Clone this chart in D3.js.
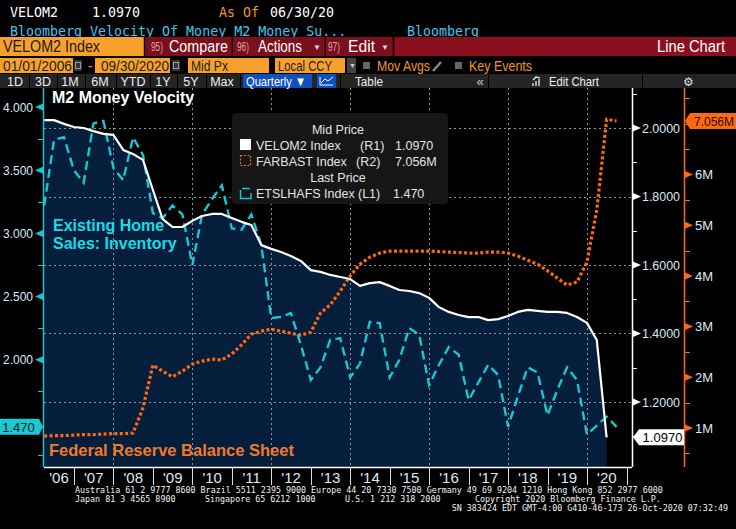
<!DOCTYPE html>
<html>
<head>
<meta charset="utf-8">
<script src="https://cdn.jsdelivr.net/npm/d3@7"></script>
<style>
  body { margin: 0; background: #000; }
  svg { display: block; }
  text { font-family: "Liberation Sans", Arial, sans-serif; }
  .mono { font-family: "DejaVu Sans Mono", "Liberation Mono", monospace; }
  .axis path, .axis line { shape-rendering: crispEdges; }
</style>
</head>
<body>
<div id="chart"></div>
<script>
// ---- Data (quarterly, first point 2006 Q1) ----
const yearLabels = ["'06", "'07", "'08", "'09", "'10", "'11", "'12", "'13", "'14", "'15", "'16", "'17", "'18", "'19", "'20"];

// VELOM2 Index (R1) - M2 money velocity, through 2020 Q2
const velom2 = [2.023, 2.023, 2.012, 2.003, 2.000, 1.991, 1.983, 1.980, 1.936, 1.924,
  1.907, 1.819, 1.734, 1.711, 1.711, 1.729, 1.743, 1.749, 1.749, 1.737,
  1.726, 1.717, 1.658, 1.647, 1.638, 1.626, 1.612, 1.585, 1.580, 1.571,
  1.565, 1.559, 1.539, 1.547, 1.550, 1.539, 1.527, 1.524, 1.518, 1.504,
  1.477, 1.463, 1.454, 1.448, 1.448, 1.439, 1.442, 1.451, 1.463, 1.469,
  1.466, 1.463, 1.463, 1.460, 1.448, 1.431, 1.381, 1.097];

// FARBAST Index (R2) - Fed balance sheet, millions, through 2020 Q3
const farbast = [0.84, 0.85, 0.85, 0.86, 0.87, 0.87, 0.88, 0.89, 0.89, 0.90,
  1.40, 2.24, 2.12, 2.01, 2.12, 2.26, 2.32, 2.36, 2.34, 2.46,
  2.64, 2.85, 2.91, 2.95, 2.91, 2.87, 2.83, 2.89, 3.27, 3.43,
  3.70, 4.00, 4.23, 4.37, 4.45, 4.49, 4.49, 4.49, 4.49, 4.49,
  4.48, 4.47, 4.46, 4.45, 4.45, 4.47, 4.47, 4.45, 4.39, 4.31,
  4.23, 4.10, 3.96, 3.82, 3.88, 4.27, 5.30, 7.09, 7.056];

// ETSLHAFS Index (L1) - existing home sales inventory, millions, through 2020 Q3
const etslhafs = [3.22, 3.74, 3.76, 3.50, 3.40, 3.87, 3.89, 3.52, 3.42, 3.76,
  3.62, 3.16, 3.12, 3.22, 3.15, 2.75, 3.15, 3.27, 3.38, 3.04,
  3.03, 3.15, 2.91, 2.33, 2.34, 2.37, 2.12, 1.84, 1.94, 2.16,
  2.17, 1.86, 1.97, 2.30, 2.29, 1.86, 2.00, 2.25, 2.20, 1.80,
  1.96, 2.10, 2.04, 1.68, 1.82, 1.96, 1.88, 1.47, 1.71, 1.94,
  1.90, 1.56, 1.76, 1.94, 1.84, 1.41, 1.48, 1.55, 1.47];

const leftTicks = [2.0, 2.5, 3.0, 3.5, 4.0],
      leftMinor = [1.25, 1.75, 2.25, 2.75, 3.25, 3.75],
      r1Ticks = [1.2, 1.4, 1.6, 1.8, 2.0],
      r1Minor = [1.1, 1.3, 1.5, 1.7, 1.9, 2.1],
      r2Ticks = [1, 2, 3, 4, 5, 6],
      r2Minor = [0.5, 1.5, 2.5, 3.5, 4.5, 5.5, 6.5, 7, 7.5];

// quarter-end dates
const quarterEnd = i => d3.timeDay.offset(d3.timeMonth.offset(new Date(2006, 3, 1), 3 * i), -1);

// ---- Layout ----
const W = 736, H = 529;
const plot = {left: 44, right: 632, top: 88, bottom: 467};
const C = {
  navy: "#041e3c", white: "#ffffff", orange: "#ff6812", cyan: "#19c6d2",
  amber: "#f7a12c", red: "#8a1020", label: "#dce8f4", grid: "#8a96a3"
};

const svg = d3.select("#chart").append("svg").attr("width", W).attr("height", H);
svg.append("rect").attr("width", W).attr("height", H).attr("fill", "#000");

// ---- Scales ----
const x = d3.scaleTime()
  .domain([new Date(2006, 0, 1), new Date(2021, 0, 1)])
  .range([34.6, 626.6]);
const yL = d3.scaleLinear().domain([1.152, 4.150]).range([plot.bottom, plot.top]);
const yR1 = d3.scaleLinear().domain([1.0102, 2.1168]).range([plot.bottom, plot.top]);
const yR2 = d3.scaleLinear().domain([0.231, 7.706]).range([plot.bottom, plot.top]);

const velData = velom2.map((v, i) => ({date: quarterEnd(i), v}));
const fedData = farbast.map((v, i) => ({date: quarterEnd(i), v}));
const homeData = etslhafs.map((v, i) => ({date: quarterEnd(i), v}));

/////////////////////////////////////////////////////////////////////////////
//// Header /////////////////////////////////////////////////////////////////
/////////////////////////////////////////////////////////////////////////////
const hdr = svg.append("g");
const mono = (t, xx, yy, fill, size = 13.3) => hdr.append("text").attr("class", "mono")
  .attr("x", xx).attr("y", yy).attr("fill", fill).style("font-size", size + "px").text(t);
// sans text squeezed to the width Bloomberg's narrow font takes
const txt = (t, xx, yy, fill, size, len) => {
  const el = hdr.append("text").attr("x", xx).attr("y", yy).attr("fill", fill)
    .style("font-size", size + "px").text(t);
  if (len) el.attr("textLength", len).attr("lengthAdjust", "spacingAndGlyphs");
  return el;
};

mono("VELOM2", 10, 17, "#fff");
mono("1.0970", 92, 17, "#fff");
mono("As Of", 219, 17, "#f0962a");
mono("06/30/20", 270, 17, "#fff");
mono("Bloomberg Velocity Of Money M2 Money Su...", 10, 36, "#45c4ee");
mono("Bloomberg", 407, 36, "#45c4ee");

// row 3: security + red function bar
hdr.append("rect").attr("x", 0).attr("y", 37).attr("width", 144).attr("height", 19).attr("fill", C.amber);
txt("VELOM2 Index", 3, 52, "#1a1a1a", 16, 97);
hdr.append("rect").attr("x", 145).attr("y", 37).attr("width", W - 145).attr("height", 19).attr("fill", C.red);

const buttons = [
  [145, 232, "95)", 151, "Compare", 169, 59, null],
  [233, 325, "96)", 237, "Actions", 258, 44, 313],
  [326, 393, "97)", 328, "Edit", 348, 27, 381]
];
buttons.forEach(([x0, x1, num, nx, label, lx, len, cx]) => {
  hdr.append("rect").attr("x", x0).attr("y", 37).attr("width", x1 - x0).attr("height", 19).attr("fill", "#7d0e1c");
  txt(num, nx, 51, "#dba7ae", 12, 12);
  txt(label, lx, 52, "#fff", 16, len);
  if (cx) txt("▼", cx, 50, "#ddd", 8);
  hdr.append("line").attr("x1", x1 + 0.5).attr("x2", x1 + 0.5).attr("y1", 37).attr("y2", 56).attr("stroke", "#000").attr("stroke-width", 1.5);
});
hdr.append("line").attr("x1", 144.5).attr("x2", 144.5).attr("y1", 37).attr("y2", 56).attr("stroke", "#000").attr("stroke-width", 1.5);
txt("Line Chart", 657, 52, "#fff", 16, 68);

// row 4: date range & options
const fields = [[0, 73, "01/01/2006", 3, 69], [95, 170, "09/30/2020", 101, 68],
  [188, 269, "Mid Px", 191, 37], [275, 345, "Local CCY", 278, 54]];
fields.forEach(([x0, x1, t, tx, len]) => {
  hdr.append("rect").attr("x", x0).attr("y", 58).attr("width", x1 - x0).attr("height", 15).attr("fill", C.amber);
  txt(t, tx, 71, "#222", 15, len);
});
[74, 172].forEach(xx => {
  hdr.append("rect").attr("x", xx).attr("y", 60).attr("width", 8).attr("height", 11).attr("fill", "#333");
  hdr.append("rect").attr("x", xx + 1.5).attr("y", 62.5).attr("width", 5).attr("height", 6)
    .attr("fill", "none").attr("stroke", "#999").attr("stroke-width", 1);
});
txt("-", 88, 71, C.amber, 14);
hdr.append("rect").attr("x", 347).attr("y", 58).attr("width", 9).attr("height", 15).attr("fill", "#444");
txt("▼", 349, 68, "#ccc", 7);
hdr.append("rect").attr("x", 363).attr("y", 62).attr("width", 7).attr("height", 7).attr("fill", "#666");
txt("Mov Avgs", 377, 71, "#f0962a", 15, 53);
hdr.append("line").attr("x1", 433).attr("y1", 71).attr("x2", 441).attr("y2", 62).attr("stroke", "#888").attr("stroke-width", 2.5);
hdr.append("rect").attr("x", 455).attr("y", 62).attr("width", 7).attr("height", 7).attr("fill", "#666");
txt("Key Events", 469, 71, "#f0962a", 15, 63);

// row 5: periods toolbar
hdr.append("rect").attr("x", 0).attr("y", 74).attr("width", W).attr("height", 14).attr("fill", "#242424");
const periods = [[15, "1D"], [43, "3D"], [70, "1M"], [100, "6M"], [133, "YTD"], [163, "1Y"], [191, "5Y"], [222, "Max"]];
periods.forEach(([cx, t]) => hdr.append("text").attr("x", cx).attr("y", 86).attr("text-anchor", "middle")
  .attr("fill", "#eee").style("font-size", "12.5px").text(t));
[29, 57, 85, 116, 150, 177, 206, 240, 340, 488, 642].forEach(xx =>
  hdr.append("line").attr("x1", xx + 0.5).attr("x2", xx + 0.5).attr("y1", 74).attr("y2", 88).attr("stroke", "#000"));
hdr.append("rect").attr("x", 243).attr("y", 74).attr("width", 69).attr("height", 14).attr("fill", "#0f4fbf");
txt("Quarterly ▼", 246, 86, "#fff", 13, 60);
hdr.append("rect").attr("x", 317).attr("y", 74).attr("width", 19).attr("height", 14).attr("fill", "#0f4fbf");
hdr.append("path").attr("d", "M320,85 L320,77 M320,85 L333,85 M321,83 L325,79 L328,81 L333,77")
  .attr("fill", "none").attr("stroke", "#fff").attr("stroke-width", 1);
txt("Table", 355, 86, "#eee", 13, 28);
hdr.append("text").attr("x", 480).attr("y", 86).attr("text-anchor", "middle").attr("fill", "#ccc").style("font-size", "13px").text("«");
hdr.append("path").attr("d", "M533,86 L533,83 M536,86 L536,81 M539,86 L539,79 M533,80 L536,77 L540,78")
  .attr("fill", "none").attr("stroke", "#fff").attr("stroke-width", 1.2);
txt("Edit Chart", 549, 86, "#eee", 13, 50);
hdr.append("text").attr("x", 688).attr("y", 86).attr("text-anchor", "middle").attr("fill", "#ddd").style("font-size", "12px").text("⚙");

/////////////////////////////////////////////////////////////////////////////
//// Plot ///////////////////////////////////////////////////////////////////
/////////////////////////////////////////////////////////////////////////////
svg.append("clipPath").attr("id", "plotClip").append("rect")
  .attr("x", plot.left).attr("y", plot.top)
  .attr("width", plot.right - plot.left).attr("height", plot.bottom - plot.top);

const g = svg.append("g").attr("clip-path", "url(#plotClip)");

// area under velocity
g.append("path").datum(velData)
  .attr("fill", C.navy)
  .attr("d", d3.area().x(d => x(d.date)).y0(plot.bottom).y1(d => yR1(d.v)));

// grid
g.append("g").selectAll("line").data(r1Ticks).enter().append("line")
  .attr("x1", plot.left).attr("x2", plot.right)
  .attr("y1", d => Math.round(yR1(d)) + 0.5).attr("y2", d => Math.round(yR1(d)) + 0.5)
  .attr("stroke", C.grid).attr("stroke-width", 1).attr("stroke-dasharray", "2,3");
const gridYears = d3.range(2008, 2021, 2).map(y => new Date(y, 0, 1));
g.append("g").selectAll("line").data(gridYears).enter().append("line")
  .attr("x1", d => Math.round(x(d)) + 0.5).attr("x2", d => Math.round(x(d)) + 0.5)
  .attr("y1", plot.top).attr("y2", plot.bottom)
  .attr("stroke", C.grid).attr("stroke-width", 1).attr("stroke-dasharray", "2,3");

// series
g.append("path").datum(fedData)
  .attr("fill", "none").attr("stroke", C.orange).attr("stroke-width", 3.2)
  .attr("stroke-dasharray", "3,2.4")
  .attr("d", d3.line().x(d => x(d.date)).y(d => yR2(d.v)));

g.append("path").datum(homeData)
  .attr("fill", "none").attr("stroke", C.cyan).attr("stroke-width", 2.4)
  .attr("stroke-dasharray", "9,5")
  .attr("d", d3.line().x(d => x(d.date)).y(d => yL(d.v)));

g.append("path").datum(velData)
  .attr("fill", "none").attr("stroke", C.white).attr("stroke-width", 2.2)
  .attr("stroke-linejoin", "round")
  .attr("d", d3.line().x(d => x(d.date)).y(d => yR1(d.v)));

// annotations
svg.append("text").attr("x", 52).attr("y", 103).attr("fill", "#fff")
  .style("font-size", "16px").style("font-weight", "bold").text("M2 Money Velocity");
svg.append("text").attr("x", 53).attr("y", 231).attr("fill", "#17dce9")
  .style("font-size", "16px").style("font-weight", "bold").text("Existing Home");
svg.append("text").attr("x", 53).attr("y", 249).attr("fill", "#17dce9")
  .style("font-size", "16px").style("font-weight", "bold").text("Sales: Inventory");
svg.append("text").attr("x", 49).attr("y", 456).attr("fill", "#f07a2c")
  .style("font-size", "16.5px").style("font-weight", "bold").text("Federal Reserve Balance Sheet");

/////////////////////////////////////////////////////////////////////////////
//// Legend /////////////////////////////////////////////////////////////////
/////////////////////////////////////////////////////////////////////////////
const lg = svg.append("g");
lg.append("rect").attr("x", 232).attr("y", 113).attr("width", 216).attr("height", 91)
  .attr("rx", 4).attr("fill", "#161616");
const lgText = (t, xx, yy, anchor = "start") => lg.append("text").attr("x", xx).attr("y", yy)
  .attr("text-anchor", anchor).attr("fill", "#e4e4e4").style("font-size", "12.5px").text(t);
lgText("Mid Price", 338, 134, "middle");
lgText("VELOM2 Index", 256, 150); lgText("(R1)", 360, 150); lgText("1.0970", 395, 150);
lgText("FARBAST Index", 256, 166); lgText("(R2)", 356, 166); lgText("7.056M", 395, 166);
lgText("Last Price", 338, 182, "middle");
lgText("ETSLHAFS Index", 256, 198); lgText("(L1)", 358, 198); lgText("1.470", 393, 198);
lg.append("rect").attr("x", 240).attr("y", 139).attr("width", 11).attr("height", 11).attr("fill", "#fff");
lg.append("rect").attr("x", 240.5).attr("y", 155.5).attr("width", 10).attr("height", 10)
  .attr("fill", "none").attr("stroke", C.orange).attr("stroke-width", 1.2).attr("stroke-dasharray", "2,1.5");
lg.append("path").attr("d", "M240.5,190 L240.5,198.5 L251,198.5 L251,193 M242,188.5 L250,188.5")
  .attr("fill", "none").attr("stroke", C.cyan).attr("stroke-width", 1.4);

/////////////////////////////////////////////////////////////////////////////
//// Axes ///////////////////////////////////////////////////////////////////
/////////////////////////////////////////////////////////////////////////////
const styleAxis = (sel, color) => {
  sel.select(".domain").remove();
  sel.selectAll(".tick text").attr("fill", C.label).style("font-size", "13px")
    .style("font-family", "'Liberation Sans', Arial, sans-serif");
  sel.selectAll(".tick line").attr("stroke", color);
};

// left axis (L1)
svg.append("line").attr("x1", plot.left - 0.5).attr("x2", plot.left - 0.5)
  .attr("y1", plot.top).attr("y2", plot.bottom).attr("stroke", C.cyan).attr("stroke-width", 1.5);
svg.append("g").attr("class", "axis").attr("transform", `translate(${plot.left - 1},0)`)
  .call(d3.axisLeft(yL).tickValues(leftTicks).tickSize(0).tickPadding(10).tickFormat(d3.format(".3f")))
  .call(s => styleAxis(s, C.cyan))
  .call(s => s.selectAll(".tick text").attr("textLength", 30).attr("lengthAdjust", "spacingAndGlyphs"));
svg.append("g").attr("class", "axis").attr("transform", `translate(${plot.left - 1},0)`)
  .call(d3.axisLeft(yL).tickValues(leftMinor).tickSize(5).tickFormat(""))
  .call(s => styleAxis(s, C.cyan));
svg.append("g").selectAll("path").data(leftTicks).enter().append("path")
  .attr("d", d => `M${plot.left - 1},${yL(d) - 3.5} L${plot.left - 9},${yL(d)} L${plot.left - 1},${yL(d) + 3.5} Z`)
  .attr("fill", C.cyan);

// right axis (R1)
svg.append("line").attr("x1", plot.right + 0.5).attr("x2", plot.right + 0.5)
  .attr("y1", plot.top).attr("y2", plot.bottom).attr("stroke", "#fff").attr("stroke-width", 1.5);
svg.append("g").attr("class", "axis").attr("transform", `translate(${plot.right + 1},0)`)
  .call(d3.axisRight(yR1).tickValues(r1Ticks).tickSize(0).tickPadding(9).tickFormat(d3.format(".4f")))
  .call(s => styleAxis(s, "#fff"))
  .call(s => s.selectAll(".tick text").attr("textLength", 38).attr("lengthAdjust", "spacingAndGlyphs"));
svg.append("g").attr("class", "axis").attr("transform", `translate(${plot.right + 1},0)`)
  .call(d3.axisRight(yR1).tickValues(r1Minor).tickSize(4).tickFormat(""))
  .call(s => styleAxis(s, "#fff"));
svg.append("g").selectAll("path").data(r1Ticks).enter().append("path")
  .attr("d", d => `M${plot.right + 1},${yR1(d) - 3.5} L${plot.right + 9},${yR1(d)} L${plot.right + 1},${yR1(d) + 3.5} Z`)
  .attr("fill", "#fff");

// right axis (R2)
const r2x = 684;
svg.append("line").attr("x1", r2x + 0.5).attr("x2", r2x + 0.5)
  .attr("y1", plot.top).attr("y2", plot.bottom).attr("stroke", C.orange).attr("stroke-width", 1.5);
svg.append("g").attr("class", "axis").attr("transform", `translate(${r2x + 1},0)`)
  .call(d3.axisRight(yR2).tickValues(r2Ticks).tickSize(0).tickPadding(10).tickFormat(d => d + "M"))
  .call(s => styleAxis(s, C.orange));
svg.append("g").attr("class", "axis").attr("transform", `translate(${r2x + 1},0)`)
  .call(d3.axisRight(yR2).tickValues(r2Minor).tickSize(5).tickFormat(""))
  .call(s => styleAxis(s, C.orange));
svg.append("g").selectAll("path").data(r2Ticks).enter().append("path")
  .attr("d", d => `M${r2x + 1},${yR2(d) - 3.5} L${r2x + 9},${yR2(d)} L${r2x + 1},${yR2(d) + 3.5} Z`)
  .attr("fill", C.orange);

// last value tags
const lastHome = etslhafs[etslhafs.length - 1],
      lastVel = velom2[velom2.length - 1],
      lastFed = farbast[farbast.length - 1];
const tag = (tipX, yy, x0, x1, fill, t, textFill, size) => {
  svg.append("path")
    .attr("d", tipX < x0
      ? `M${tipX},${yy} L${x0},${yy - 8} L${x1},${yy - 8} L${x1},${yy + 8} L${x0},${yy + 8} Z`
      : `M${tipX},${yy} L${x1},${yy - 8} L${x0},${yy - 8} L${x0},${yy + 8} L${x1},${yy + 8} Z`)
    .attr("fill", fill);
  svg.append("text").attr("x", (x0 + x1) / 2 + (tipX < x0 ? 1 : -1)).attr("y", yy + 5)
    .attr("text-anchor", "middle").attr("fill", textFill).style("font-size", size + "px").text(t);
};
tag(43, yL(lastHome), 0, 39, "#1cc8d2", d3.format(".3f")(lastHome), "#06262c", 13);
tag(633, yR1(lastVel), 639, 684, "#fff", d3.format(".4f")(lastVel), "#000", 13);
tag(685, yR2(lastFed), 690, 736, "#ff6812", d3.format(".3f")(lastFed) + "M", "#2a0e00", 12);

// x axis (years)
svg.append("line").attr("x1", plot.left).attr("x2", plot.right)
  .attr("y1", plot.bottom + 0.5).attr("y2", plot.bottom + 0.5).attr("stroke", "#fff").attr("stroke-width", 1.5);
const yearStarts = d3.timeYear.range(new Date(2006, 0, 1), new Date(2021, 0, 1));
const xa = svg.append("g").attr("class", "axis");
xa.selectAll("line").data(yearStarts.slice(1).concat([new Date(2021, 0, 1)])).enter().append("line")
  .attr("x1", d => Math.round(x(d)) + 0.5).attr("x2", d => Math.round(x(d)) + 0.5)
  .attr("y1", plot.bottom).attr("y2", plot.bottom + 18).attr("stroke", "#ddd").attr("stroke-width", 1.2);
xa.selectAll("text").data(yearStarts).enter().append("text")
  .attr("x", d => (Math.max(plot.left, x(d)) + x(d3.timeYear.offset(d, 1))) / 2)
  .attr("y", plot.bottom + 16).attr("text-anchor", "middle")
  .attr("fill", C.label).style("font-size", "15px")
  .text((d, i) => yearLabels[i]);

// footer
const foot = (t, xx, yy, anchor = "start") => svg.append("text").attr("class", "mono")
  .attr("x", xx).attr("y", yy).attr("text-anchor", anchor).attr("fill", "#f2f2f2")
  .style("font-size", "8.35px").text(t);
foot("Australia 61 2 9777 8600 Brazil 5511 2395 9000 Europe 44 20 7330 7500 Germany 49 69 9204 1210 Hong Kong 852 2977 6000", 75, 493);
foot("Japan 81 3 4565 8900", 75, 502);
foot("Singapore 65 6212 1000", 205, 502);
foot("U.S. 1 212 318 2000", 345, 502);
foot("Copyright 2020 Bloomberg Finance L.P.", 475, 502);
foot("SN 383424 EDT  GMT-4:00 G410-46-173 26-Oct-2020 07:32:49", 728, 511, "end");
</script>
</body>
</html>
